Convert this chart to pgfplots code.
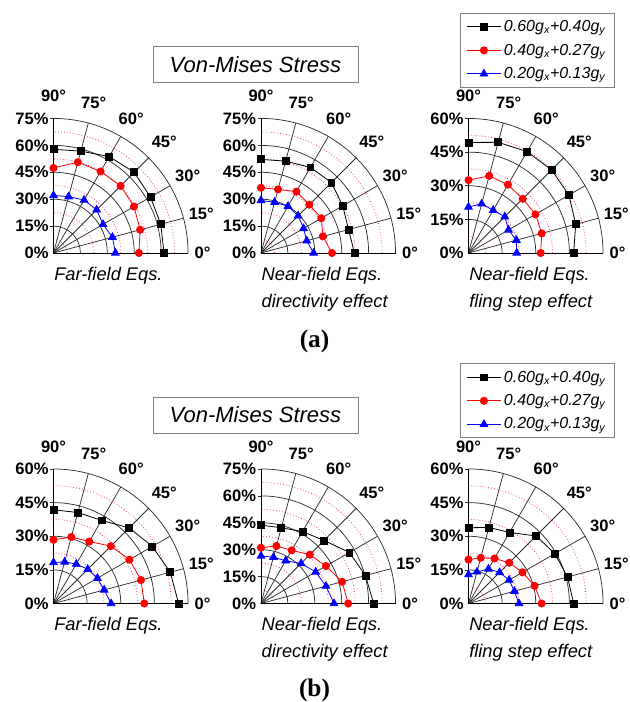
\documentclass[border=0pt]{standalone}
\usepackage{pgfplots}
\pgfplotsset{compat=1.18}
\usepackage{pgfplotstable}
\usepackage{fontspec}
\setmainfont{Liberation Sans}
\newfontfamily\timesfont{Liberation Serif}

\definecolor{gridpink}{RGB}{235,60,130}
\definecolor{griddark}{RGB}{45,45,45}
\definecolor{myred}{RGB}{255,0,0}
\definecolor{myblue}{RGB}{0,0,255}
\definecolor{boxgray}{RGB}{128,128,128}

\newcommand\tickfont{\fontsize{12.4}{14}\selectfont\bfseries}
\newcommand\capfont{\itshape\fontsize{13.7}{16}\selectfont}

% data: angle (deg), radius (%) for the three load levels
\pgfplotstableread{
theta blk red blu
0  61.6 47.6 34.5
15 61.9 50.0 34.0
30 62.4 51.8 31.9
45 63.6 52.9 34.0
60 62.1 52.5 34.1
75 58.8 52.4 32.5
90 57.8 47.4 32.1
}\Aone
\pgfplotstableread{
theta blk red blu
0  52.1 39.6 29.3
15 50.5 35.7 26.4
30 52.6 38.8 27.4
45 55.5 38.1 29.3
60 55.1 39.5 30.1
75 53.0 36.7 29.3
90 52.2 36.4 29.3
}\Atwo
\pgfplotstableread{
theta blk red blu
0  46.9 32.2 21.5
15 49.5 33.8 22.1
30 51.7 34.5 20.6
45 52.4 34.2 22.9
60 52.2 35.2 22.0
75 51.1 35.6 22.7
90 49.3 32.5 20.5
}\Athree
\pgfplotstableread{
theta blk red blu
0  55.8 40.5 25.7
15 53.9 40.4 23.4
30 50.9 39.1 22.6
45 47.7 36.2 21.6
60 42.8 31.9 20.3
75 42.0 30.7 19.2
90 41.8 28.4 18.3
}\Bone
\pgfplotstableread{
theta blk red blu
0  62.8 48.6 40.7
15 60.3 46.8 37.5
30 56.9 41.8 35.2
45 49.7 38.5 31.6
60 46.3 34.2 27.5
75 43.7 33.2 26.7
90 43.7 31.1 26.5
}\Btwo
\pgfplotstableread{
theta blk red blu
0  46.9 32.6 22.5
15 45.7 30.5 21.2
30 44.5 27.8 20.9
45 42.6 25.7 19.6
60 36.6 23.2 17.8
75 35.1 21.1 14.6
90 33.8 19.6 12.9
}\Bthree

% polar quarter grid: #1 x(pt) #2 y(pt) #3 rmax #4 list of minor radii
\newcommand\pgrid[4]{%
\begin{scope}[shift={(#1pt,#2pt)}]
 \foreach \rad in {#4} {
   \pgfmathsetmacro\rr{\rad/#3*100.9}
   \draw[gridpink, line width=0.6pt, dash pattern=on 0.6pt off 1.6pt] (\rr pt,0pt) arc[start angle=0, end angle=90, radius=\rr pt];
 }
 \foreach \rad in {15,30,...,#3} {
   \pgfmathsetmacro\rr{\rad/#3*100.9}
   \draw[griddark, line width=0.55pt] (\rr pt,0pt) arc[start angle=0, end angle=90, radius=\rr pt];
   \draw[griddark, line width=0.55pt] (0pt,\rr pt) -- (-2.5pt,\rr pt);
 }
 \foreach \angl in {15,30,...,75} \draw[griddark, line width=0.55pt] (0,0) -- (\angl:100.9pt);
 \draw[black, line width=0.6pt] (100.9pt,0) -- (0,0) -- (0,100.9pt);
 \foreach \rad in {0,15,...,#3} {
   \pgfmathsetmacro\rr{\rad/#3*100.9}
   \node[anchor=east, inner sep=0pt, font=\tickfont] at (-3.5pt,\rr pt) {\rad\%};
 }
 \foreach \angl/\dd in {0/111.75,15/114.75,30/116.25,45/117.5,60/116.5,75/116.25,90/117.75}
   \node[inner sep=0pt, font=\tickfont] at (\angl:\dd pt) {\angl°};
\end{scope}}

\newcommand\threeplots[1]{%
\addplot[black, line width=0.6pt, mark=square*, mark size=2.6pt]
  table[x expr={\thisrow{blk}*cos(\thisrow{theta})}, y expr={\thisrow{blk}*sin(\thisrow{theta})}]{#1};
\addplot[myred, line width=0.6pt, mark=*, mark size=2.7pt]
  table[x expr={\thisrow{red}*cos(\thisrow{theta})}, y expr={\thisrow{red}*sin(\thisrow{theta})}]{#1};
\addplot[myblue, line width=0.6pt, mark=triangle*, mark size=3.3pt]
  table[x expr={\thisrow{blu}*cos(\thisrow{theta})}, y expr={\thisrow{blu}*sin(\thisrow{theta})}]{#1};
}

\pgfplotsset{
  panel/.style={anchor=south west, hide axis, clip=false, xmin=0, ymin=0},
  p75/.style={panel, x=1.34533pt, y=1.34533pt, xmax=75, ymax=75},
  p60/.style={panel, x=1.68167pt, y=1.68167pt, xmax=60, ymax=60},
  leg/.style={
    legend style={at={(-0.063,1.785)}, anchor=north west, draw=boxgray, line width=0.75pt,
      fill=white, font=\itshape\fontsize{12}{14}\selectfont, inner xsep=4.5pt, inner ysep=1.65pt,
      row sep=0.6pt, nodes={inner sep=2pt, text height=10pt, text depth=3pt}},
    legend cell align=left,
    legend image code/.code={\draw[mark repeat=2, mark phase=2, ##1] plot coordinates {(0pt,0pt) (12.75pt,0pt) (25.5pt,0pt)};}
  }
}

\begin{document}
\begin{tikzpicture}
\useasboundingbox (0,0) rectangle (472.5pt,-526.5pt);

% grids
\pgrid{40.125}{-189.75}{75}{7.5,22.5,37.5,52.5,67.5}
\pgrid{195.75}{-189.75}{75}{7.5,22.5,37.5,52.5,67.5}
\pgrid{351.375}{-189.75}{60}{7.5,22.5,37.5,52.5}
\pgrid{40.125}{-452.625}{60}{7.5,22.5,37.5,52.5}
\pgrid{195.75}{-452.625}{75}{7.5,22.5,37.5,52.5,67.5}
\pgrid{351.375}{-452.625}{60}{7.5,22.5,37.5,52.5}

% (a)
\begin{axis}[p75, at={(40.125pt,-189.75pt)}]
\threeplots{\Aone}
\end{axis}
\begin{axis}[p75, at={(195.75pt,-189.75pt)}]
\threeplots{\Atwo}
\end{axis}
\begin{axis}[p60, leg, at={(351.375pt,-189.75pt)}]
\threeplots{\Athree}
\legend{{0.60g\textsubscript{x}+0.40g\textsubscript{y}},{0.40g\textsubscript{x}+0.27g\textsubscript{y}},{0.20g\textsubscript{x}+0.13g\textsubscript{y}}}
\end{axis}

% (b)
\begin{axis}[p60, at={(40.125pt,-452.625pt)}]
\threeplots{\Bone}
\end{axis}
\begin{axis}[p75, at={(195.75pt,-452.625pt)}]
\threeplots{\Btwo}
\end{axis}
\begin{axis}[p60, leg, at={(351.375pt,-452.625pt)}]
\threeplots{\Bthree}
\legend{{0.60g\textsubscript{x}+0.40g\textsubscript{y}},{0.40g\textsubscript{x}+0.27g\textsubscript{y}},{0.20g\textsubscript{x}+0.13g\textsubscript{y}}}
\end{axis}

% titles
\draw[boxgray, line width=0.75pt, fill=white] (114.75pt,-35.25pt) rectangle (268.5pt,-62.25pt);
\node[font=\itshape\fontsize{16.5}{19}\selectfont] at (191.6pt,-48.75pt) {Von-Mises Stress};
\draw[boxgray, line width=0.75pt, fill=white] (114.75pt,-297.75pt) rectangle (268.5pt,-324.75pt);
\node[font=\itshape\fontsize{16.5}{19}\selectfont] at (191.6pt,-311.25pt) {Von-Mises Stress};

% captions
\node[anchor=base west, inner sep=0pt, font=\capfont] at (40.5pt,-210.5pt) {Far-field Eqs.};
\node[anchor=base west, inner sep=0pt, font=\capfont] at (196.1pt,-210.5pt) {Near-field Eqs.};
\node[anchor=base west, inner sep=0pt, font=\capfont] at (196.1pt,-230.75pt) {directivity effect};
\node[anchor=base west, inner sep=0pt, font=\capfont] at (351.75pt,-210.5pt) {Near-field Eqs.};
\node[anchor=base west, inner sep=0pt, font=\capfont] at (351.75pt,-230.75pt) {fling step effect};

\node[anchor=base west, inner sep=0pt, font=\capfont] at (40.5pt,-473pt) {Far-field Eqs.};
\node[anchor=base west, inner sep=0pt, font=\capfont] at (196.1pt,-473pt) {Near-field Eqs.};
\node[anchor=base west, inner sep=0pt, font=\capfont] at (196.1pt,-493.25pt) {directivity effect};
\node[anchor=base west, inner sep=0pt, font=\capfont] at (351.75pt,-473pt) {Near-field Eqs.};
\node[anchor=base west, inner sep=0pt, font=\capfont] at (351.75pt,-493.25pt) {fling step effect};

\node[font=\timesfont\bfseries\fontsize{19}{22}\selectfont] at (235.9pt,-255.75pt) {(a)};
\node[font=\timesfont\bfseries\fontsize{19}{22}\selectfont] at (235.9pt,-517.5pt) {(b)};
\end{tikzpicture}
\end{document}
